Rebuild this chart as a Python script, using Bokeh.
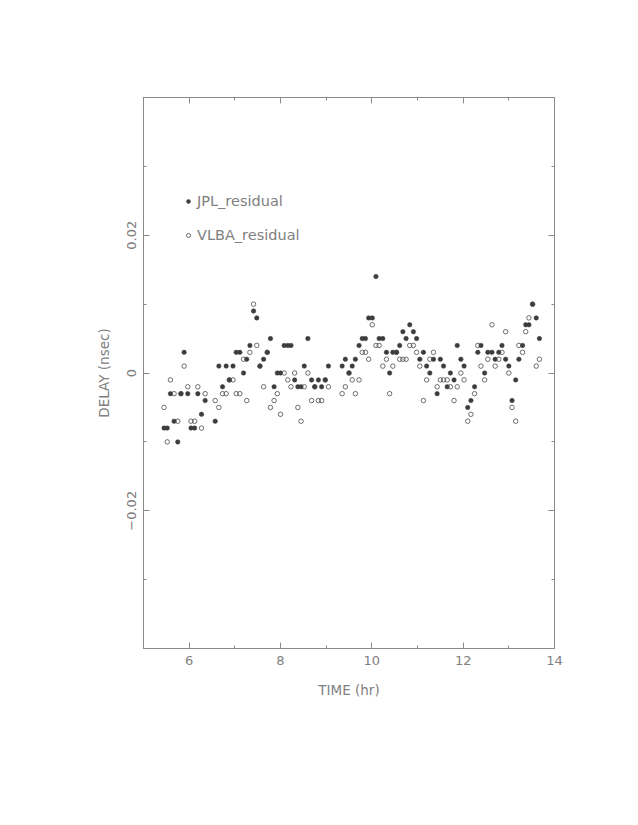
from bokeh.plotting import figure
from bokeh.models import LinearAxis, FixedTicker, Range1d, Legend, LegendItem
from bokeh.embed import file_html
from bokeh.resources import INLINE

# ---- data ----
time_hr = [5.45, 5.52, 5.59, 5.67, 5.75, 5.82, 5.89, 5.97, 6.04, 6.12, 6.19, 6.27, 6.35,
           6.57, 6.65, 6.73, 6.81, 6.88, 6.96, 7.03, 7.11, 7.19, 7.26, 7.33, 7.41, 7.48,
           7.55, 7.63, 7.71, 7.78, 7.86, 7.93, 8.00, 8.08, 8.16, 8.23, 8.31, 8.38, 8.45,
           8.52, 8.60, 8.68, 8.75, 8.83, 8.90, 8.98, 9.05, 9.35, 9.42, 9.50, 9.57, 9.64,
           9.72, 9.79, 9.86, 9.93, 10.01, 10.09, 10.16, 10.24, 10.32, 10.39, 10.46, 10.54,
           10.61, 10.68, 10.75, 10.83, 10.91, 10.98, 11.05, 11.13, 11.20, 11.27, 11.35,
           11.43, 11.50, 11.57, 11.65, 11.72, 11.80, 11.87, 11.95, 12.02, 12.10, 12.17,
           12.25, 12.32, 12.39, 12.47, 12.54, 12.63, 12.70, 12.78, 12.85, 12.93, 13.00,
           13.07, 13.15, 13.22, 13.30, 13.37, 13.44, 13.52, 13.60, 13.67]

jpl_residual = [-0.008, -0.008, -0.003, -0.007, -0.010, -0.003, 0.003, -0.003, -0.008, -0.008,
                -0.003, -0.006, -0.004, -0.007, 0.001, -0.002, 0.001, -0.001, 0.001, 0.003,
                0.003, 0.000, 0.002, 0.004, 0.009, 0.008, 0.001, 0.002, 0.003, 0.005,
                -0.002, 0.000, 0.000, 0.004, 0.004, 0.004, -0.001, -0.002, -0.002, 0.001,
                0.005, -0.001, -0.002, -0.001, -0.002, -0.001, 0.001, 0.001, 0.002, 0.000,
                0.001, 0.002, 0.004, 0.005, 0.005, 0.008, 0.008, 0.014, 0.005, 0.005,
                0.003, 0.000, 0.003, 0.003, 0.004, 0.006, 0.005, 0.007, 0.006, 0.005,
                0.002, 0.003, 0.001, 0.000, 0.002, -0.003, 0.002, 0.001, -0.002, 0.000,
                -0.001, 0.004, 0.002, 0.001, -0.005, -0.004, -0.002, 0.003, 0.004, 0.000,
                0.003, 0.003, 0.002, 0.003, 0.004, 0.002, 0.001, -0.004, -0.001, 0.002,
                0.004, 0.007, 0.007, 0.010, 0.008, 0.005]

vlba_residual = [-0.005, -0.010, -0.001, -0.003, -0.007, -0.003, 0.001, -0.002, -0.007, -0.007,
                 -0.002, -0.008, -0.003, -0.004, -0.005, -0.003, -0.003, -0.001, -0.001, -0.003,
                 -0.003, 0.002, -0.004, 0.003, 0.010, 0.004, 0.001, -0.002, 0.003, -0.005,
                 -0.004, -0.003, -0.006, 0.000, -0.001, -0.002, 0.000, -0.005, -0.007, -0.002,
                 0.000, -0.004, -0.002, -0.004, -0.004, -0.001, -0.002, -0.003, -0.002, 0.000,
                 -0.001, -0.003, -0.001, 0.003, 0.003, 0.002, 0.007, 0.004, 0.004, 0.001,
                 0.002, -0.003, 0.001, 0.003, 0.002, 0.002, 0.002, 0.004, 0.004, 0.003,
                 0.001, -0.004, -0.001, 0.002, 0.003, -0.002, -0.001, -0.001, -0.001, -0.002,
                 -0.004, -0.002, 0.000, -0.001, -0.007, -0.006, -0.003, 0.004, 0.001, -0.001,
                 0.002, 0.007, 0.001, 0.002, 0.003, 0.006, 0.000, -0.005, -0.007, 0.004,
                 0.003, 0.006, 0.008, 0.010, 0.001, 0.002]

x_major = [6, 8, 10, 12, 14]
x_minor = [5, 7, 9, 11, 13]
y_major = [-0.02, 0, 0.02]
y_minor = [-0.03, -0.01, 0.01, 0.03]
x_limits = (5, 14)
y_limits = (-0.04, 0.04)

GRAY = "#8a8a8a"
TXT = "#808080"
DOT = "#3c3c3c"
FONT = "DejaVu Sans"

p = figure(output_backend="svg", toolbar_location=None,
           frame_width=411, frame_height=551,
           min_border_left=143, min_border_right=68,
           min_border_top=97, min_border_bottom=161,
           x_range=Range1d(*x_limits), y_range=Range1d(*y_limits),
           x_axis_label="TIME (hr)", y_axis_label="DELAY (nsec)")
p.background_fill_color = "white"
p.border_fill_color = "white"
p.outline_line_color = GRAY
p.outline_line_width = 1
p.xgrid.visible = False
p.ygrid.visible = False

r_jpl = p.scatter(time_hr, jpl_residual, marker="circle", size=4.5,
                  fill_color=DOT, line_color=DOT, line_width=0.5)
r_vlba = p.scatter(time_hr, vlba_residual, marker="circle", size=4.5,
                   fill_color="white", fill_alpha=0, line_color="#4a4a4a", line_width=0.8)


def style_axis(ax, ticks, minors, show_labels):
    ax.ticker = FixedTicker(ticks=ticks, minor_ticks=minors)
    ax.axis_line_color = GRAY
    ax.major_tick_line_color = GRAY
    ax.minor_tick_line_color = GRAY
    ax.major_tick_in = 6
    ax.major_tick_out = 0
    ax.minor_tick_in = 3
    ax.minor_tick_out = 0
    ax.major_label_text_font = FONT
    ax.major_label_text_font_size = "13px"
    ax.major_label_text_color = TXT
    ax.axis_label_text_font = FONT
    ax.axis_label_text_font_size = "13.5px"
    ax.axis_label_text_font_style = "normal"
    ax.axis_label_text_color = TXT
    if not show_labels:
        ax.major_label_text_alpha = 0


xa = p.xaxis[0]
ya = p.yaxis[0]
style_axis(xa, x_major, x_minor, True)
style_axis(ya, y_major, y_minor, True)
xa.major_label_standoff = 7
xa.axis_label_standoff = 14
ya.major_label_orientation = "parallel"
ya.major_label_standoff = 8
ya.axis_label_standoff = 12

top = LinearAxis()
right = LinearAxis()
style_axis(top, x_major, x_minor, False)
style_axis(right, y_major, y_minor, False)
p.add_layout(top, "above")
p.add_layout(right, "right")

legend = Legend(items=[LegendItem(label="JPL_residual", renderers=[r_jpl]),
                       LegendItem(label="VLBA_residual", renderers=[r_vlba])],
                location=(40, 403), orientation="vertical",
                border_line_alpha=0, background_fill_alpha=0,
                glyph_width=10, glyph_height=20, label_height=20,
                label_standoff=4, spacing=14, padding=0, margin=0,
                label_text_font=FONT, label_text_font_size="14.5px",
                label_text_color=TXT)
p.add_layout(legend, "center")

open("out.html", "w").write(file_html(p, INLINE))
